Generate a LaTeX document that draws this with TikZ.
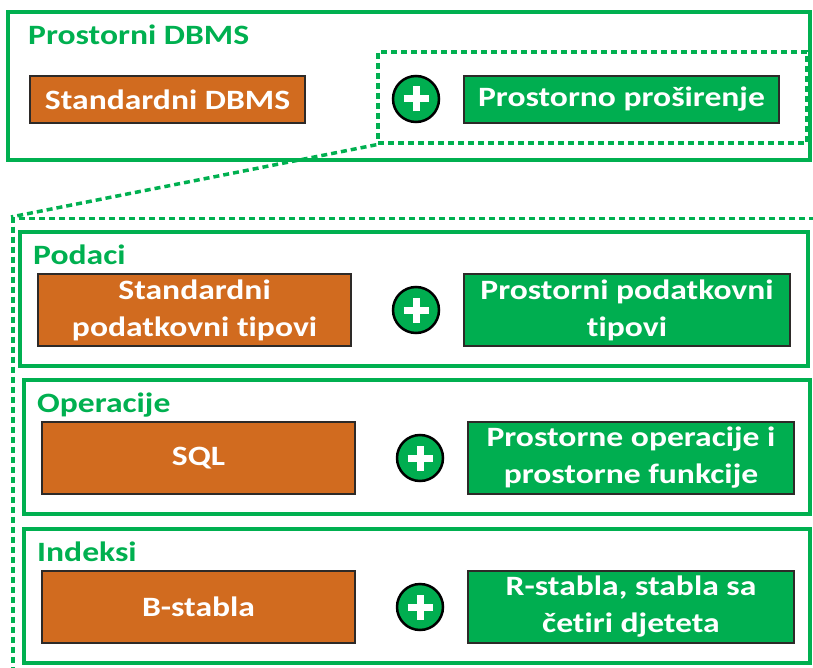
\documentclass[tikz,border=0pt]{standalone}
\usepackage{fontspec}
\setmainfont{Carlito}[FakeStretch=1.2, Ligatures=NoCommon]
\usepackage{xcolor}
\usepackage{tikz}

\definecolor{frameGreen}{RGB}{0,176,80}
\definecolor{fillGreen}{RGB}{0,174,80}
\definecolor{fillOrange}{RGB}{209,107,31}
\definecolor{edgeGray}{RGB}{45,42,40}

\tikzset{
    frame/.style={draw=frameGreen, line width=4pt},
    dashframe/.style={draw=frameGreen, line width=3.5pt, dash pattern=on 6pt off 4pt},
    title/.style={text=frameGreen, font=\bfseries\fontsize{28}{34}\selectfont, anchor=base west, inner sep=0pt},
    box/.style={draw=edgeGray, line width=2.5pt, text=white, align=center, inner sep=0pt,
        font=\bfseries\fontsize{28}{37}\selectfont},
    stdbox/.style={box, fill=fillOrange},
    spatbox/.style={box, fill=fillGreen},
    plussign/.style={circle, draw=black, line width=2.5pt, fill=fillGreen, minimum size=46pt, inner sep=0pt,
        path picture={
            \draw[white, line width=7pt] ([xshift=-12.5pt]path picture bounding box.center) -- ([xshift=12.5pt]path picture bounding box.center);
            \draw[white, line width=7pt] ([yshift=-12.5pt]path picture bounding box.center) -- ([yshift=12.5pt]path picture bounding box.center);
        }}
}

\begin{document}
\begin{tikzpicture}[x=1pt, y=-1pt]
    \useasboundingbox (0,0) rectangle (813,668);
    \clip (0,0) rectangle (813,668);

    % prostorni DBMS
    \draw[frame] (8,12) rectangle (810,160);
    \node[title] (dbms) at (28,45) {Prostorni DBMS};
    \node[stdbox, minimum width=275, minimum height=47] (std) at (167.5,99.5) {Standardni DBMS};
    \node[dashframe, minimum width=429, minimum height=91] (ext) at (592.5,97.5) {};
    \node[plussign] (sum) at (416,99) {};
    \node[spatbox, minimum width=315, minimum height=47] (spat) at (621.5,99.5) {Prostorno proširenje};

    % detalji prosirenja
    \node[dashframe, anchor=north west, minimum width=806, minimum height=480] (detail) at (11,217) {};
    \draw[dashframe] (ext.south west) -- (detail.north west);

    \foreach \n/\t/\dx/\lab/\std/\spat in {pod/232/0/Podaci/{Standardni\\podatkovni tipovi}/{Prostorni podatkovni\\tipovi},
                                           op/380/4/Operacije/SQL/{Prostorne operacije i\\prostorne funkcije},
                                           idx/529/4/Indeksi/B-stabla/{R-stabla, stabla sa\\četiri djeteta}}{
        \draw[frame] (20+\dx,\t) rectangle (808+\dx/2,\t+134);
        \node[title] (lab-\n) at (33+\dx,\t+32) {\lab};
        \node[stdbox, minimum width=313, minimum height=72] (std-\n) at (194.5+\dx,\t+78) {\std};
        \node[plussign] (sum-\n) at (416+\dx,\t+78) {};
        \node[spatbox, minimum width=326, minimum height=72] (spat-\n) at (627+\dx,\t+78) {\spat};
    }
\end{tikzpicture}
\end{document}
